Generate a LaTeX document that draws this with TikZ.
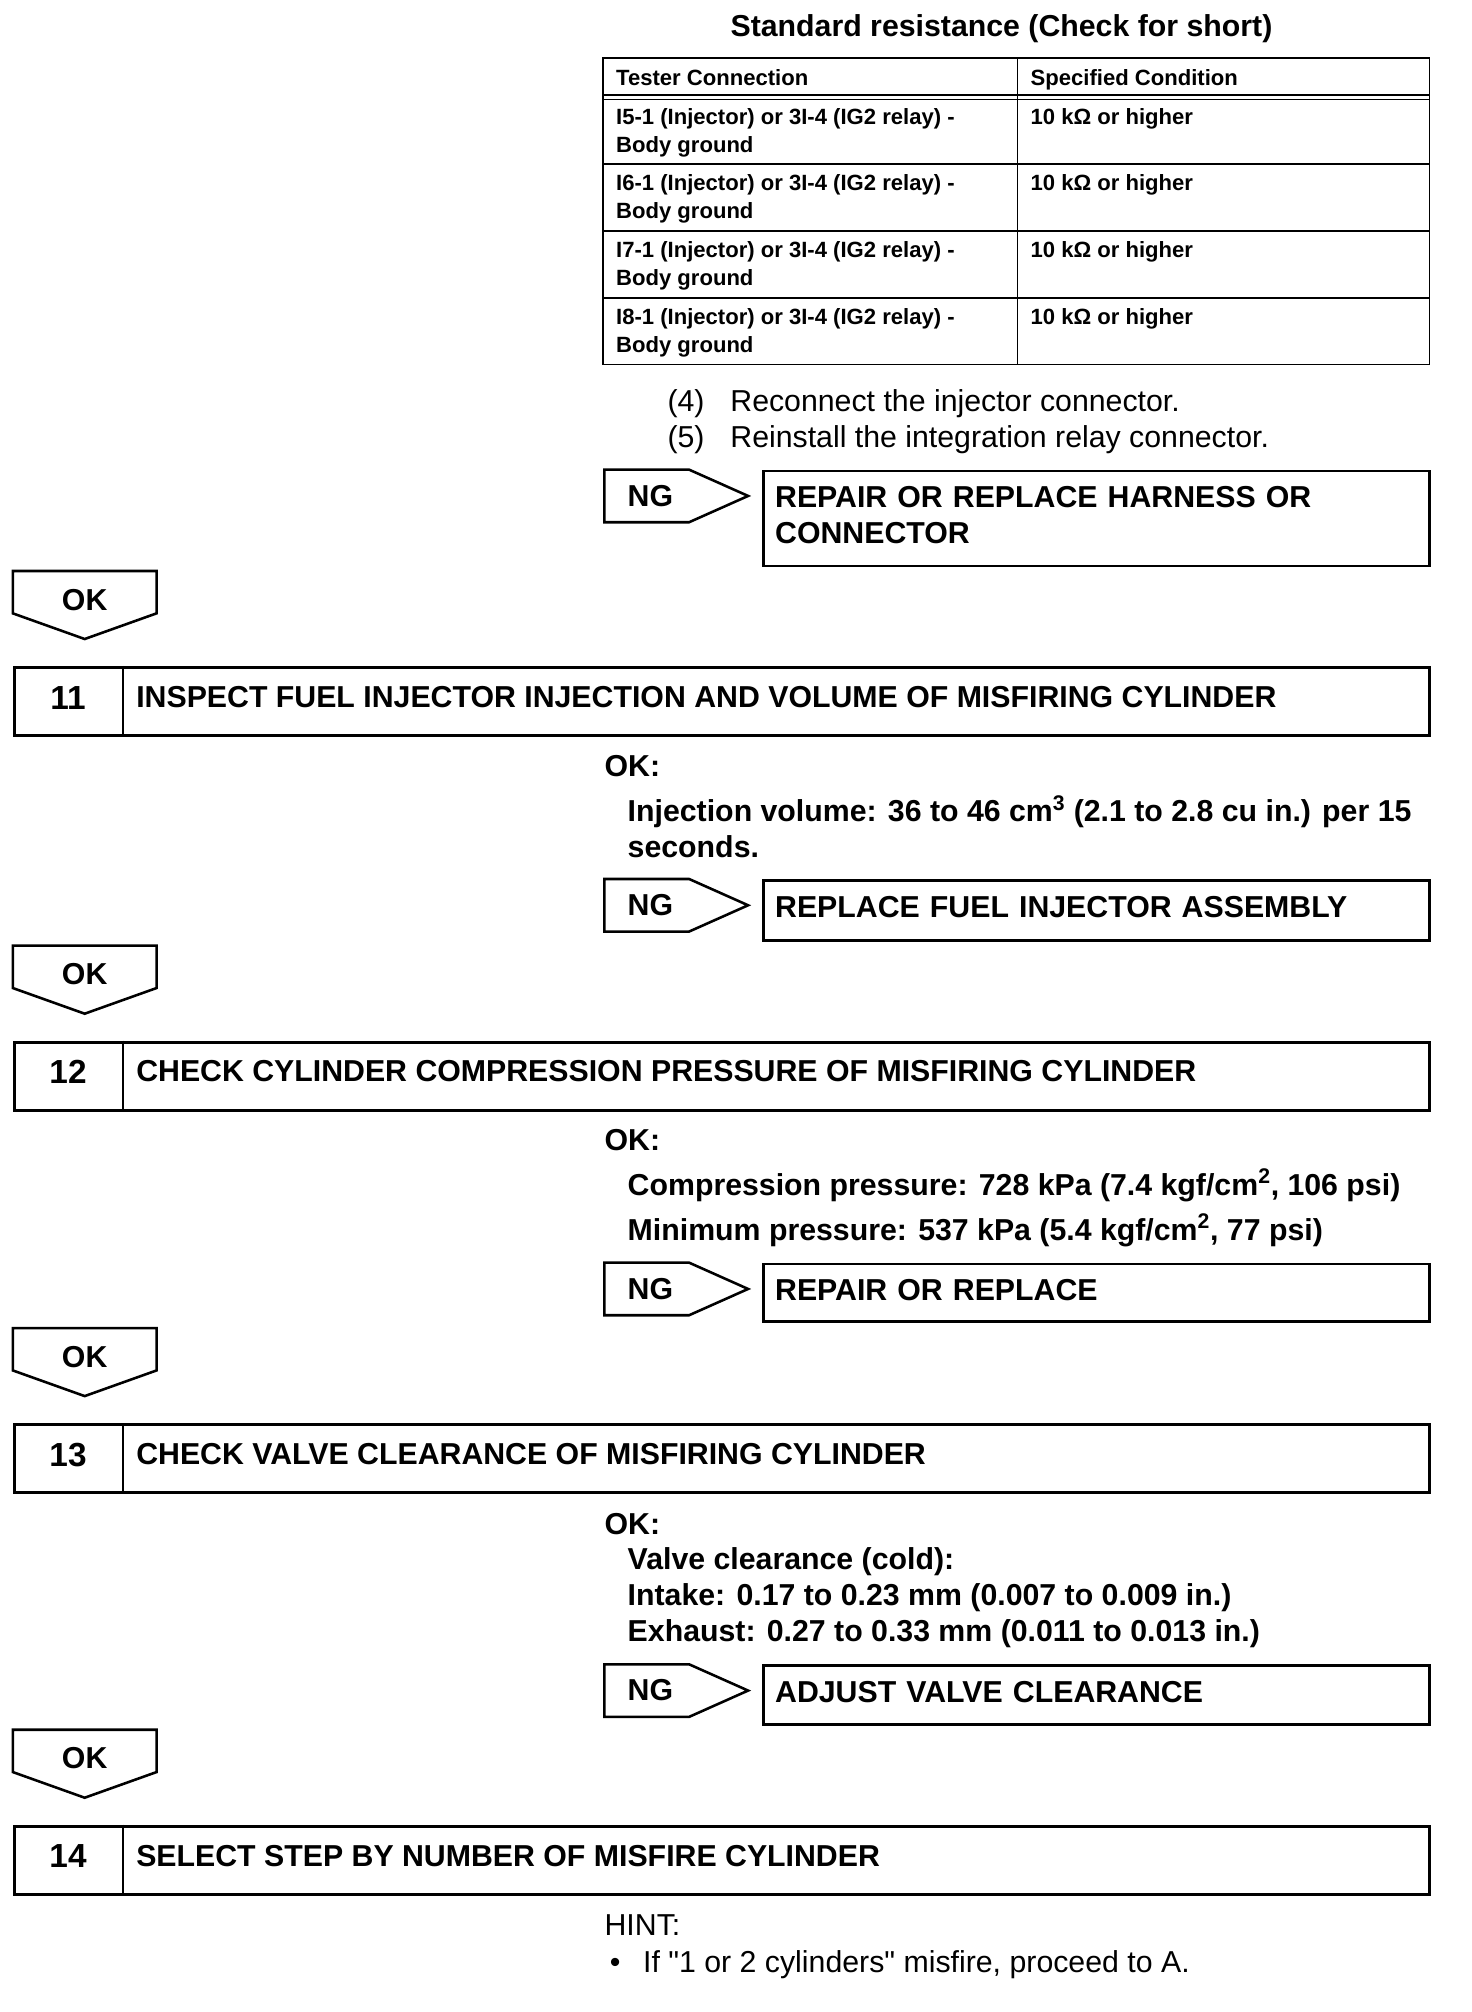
\documentclass[tikz,border=0pt]{standalone}
\usepackage{fontspec}
\setmainfont{Liberation Sans}[Ligatures=TeXOff]
\usetikzlibrary{positioning}
\tikzset{
    txt/.style={inner sep=0pt, anchor=base west,
                font=\fontsize{23.6}{28}\selectfont\bfseries},
    plaintxt/.style={txt, font=\fontsize{23.6}{28}\selectfont},
    cell/.style={inner sep=0pt, anchor=north west, align=left,
                 font=\fontsize{17.2}{22}\selectfont\bfseries},
    stepbox/.style={draw, line width=2.4pt, minimum width=1103pt,
                    minimum height=53pt, anchor=north west, inner sep=0pt},
    stepnum/.style={txt, anchor=base, font=\fontsize{26}{30}\selectfont\bfseries},
    fixbox/.style={draw, line width=2.2pt, anchor=north west,
                   minimum width=519pt, text width=501pt, inner xsep=9pt,
                   inner ysep=0pt, align=left,
                   font=\fontsize{23.6}{28}\selectfont\bfseries},
    tag/.style={draw, line width=2pt, line join=miter},
    grid/.style={line width=1.4pt}
}
\begin{document}
\begin{tikzpicture}[x=1pt, y=-1pt]
\useasboundingbox (0,0) rectangle (1147,1568);

% resistance table
\node[txt, anchor=base] (restitle) at (780.5,28.5) {Standard resistance (Check for short)};
\draw[grid] (470,45) rectangle (1114,284);
\draw[grid] (470,74) -- (1114,74);
\draw[grid] (470,77.5) -- (1114,77.5);
\foreach \y in {128,180,232} \draw[grid] (470,\y) -- (1114,\y);
\draw[grid] (793,45) -- (793,284);
\node[cell] (hdrconn) at (480,54) {Tester Connection};
\node[cell] (hdrcond) at (803,54) {Specified Condition};
\foreach \i/\y in {5/84, 6/136, 7/188, 8/240}{
  \node[cell] (conn\i) at (480,\y) {I\i-1 (Injector) or 3I-4 (IG2 relay) -\\Body ground};
  \node[cell] (cond\i) at (803,\y) {10 kΩ or higher};
}

% reconnect steps
\node[plaintxt] (numfour)  at (520,320.5) {(4)};
\node[plaintxt] (textfour) at (569,320.5) {Reconnect the injector connector.};
\node[plaintxt] (numfive)  at (520,348.5) {(5)};
\node[plaintxt] (textfive) at (569,348.5) {Reinstall the integration relay connector.};

% step headings
\foreach \n/\y/\t in {11/519/{INSPECT FUEL INJECTOR INJECTION AND VOLUME OF MISFIRING CYLINDER},
                      12/811/{CHECK CYLINDER COMPRESSION PRESSURE OF MISFIRING CYLINDER},
                      13/1109/{CHECK VALVE CLEARANCE OF MISFIRING CYLINDER},
                      14/1422/{SELECT STEP BY NUMBER OF MISFIRE CYLINDER}}{
  \node[stepbox] (step\n) at (10,\y) {};
  \draw[line width=1.2pt] ([xshift=86pt]step\n.north west) -- ([xshift=86pt]step\n.south west);
  \node[stepnum] (num\n) at ([xshift=43pt, yshift=-6pt]step\n.west) {\n};
  \node[txt] (head\n) at ([xshift=96pt, yshift=-4.5pt]step\n.west) {\t};
}

% OK arrows
\foreach \n/\y in {1/445, 2/737, 3/1035, 4/1348}{
  \draw[tag] (10,\y) -- (122,\y) -- (122,\y+33) -- (66,\y+53) -- (10,\y+33) -- cycle;
  \node[txt, anchor=base] (ok\n) at (66,\y+30.5) {OK};
}

% NG tags and repair boxes
\foreach \n/\y/\h/\d/\t in {1/366/74/33/{REPAIR OR REPLACE HARNESS OR\\CONNECTOR},
                            2/685/47/5/{REPLACE FUEL INJECTOR ASSEMBLY},
                            3/984/45/5/{REPAIR OR REPLACE},
                            4/1297/46/5/{ADJUST VALVE CLEARANCE}}{
  \draw[tag] (471,\y) -- (537,\y) -- (583,\y+20.5) -- (537,\y+41) -- (471,\y+41) -- cycle;
  \node[txt] (ng\n) at (489,\y+28.5) {NG};
  \node[fixbox, minimum height=\h pt, text depth=\d pt] (fix\n) at (594,\y) {\t};
}

% specifications
\node[txt] (okinj)  at (471,605.5) {OK:};
\node[txt] (inja)   at (489,640.5) {Injection volume: 36 to 46 cm\textsuperscript{3} (2.1 to 2.8 cu in.) per 15};
\node[txt] (injb)   at (489,668.5) {seconds.};
\node[txt] (okcomp) at (471,896.5) {OK:};
\node[txt] (compa)  at (489,931.5) {Compression pressure: 728 kPa (7.4 kgf/cm\textsuperscript{2}, 106 psi)};
\node[txt] (compb)  at (489,966.5) {Minimum pressure: 537 kPa (5.4 kgf/cm\textsuperscript{2}, 77 psi)};
\node[txt] (okval)  at (471,1195.5) {OK:};
\node[txt] (vala)   at (489,1223.5) {Valve clearance (cold):};
\node[txt] (valb)   at (489,1251.5) {Intake: 0.17 to 0.23 mm (0.007 to 0.009 in.)};
\node[txt] (valc)   at (489,1279.5) {Exhaust: 0.27 to 0.33 mm (0.011 to 0.013 in.)};

% hint
\node[plaintxt] (hint)    at (471,1508.5) {HINT:};
\node[plaintxt] (bullet)  at (475,1537.5) {•};
\node[plaintxt] (hinttxt) at (501,1537.5) {If "1 or 2 cylinders" misfire, proceed to A.};
\end{tikzpicture}
\end{document}
